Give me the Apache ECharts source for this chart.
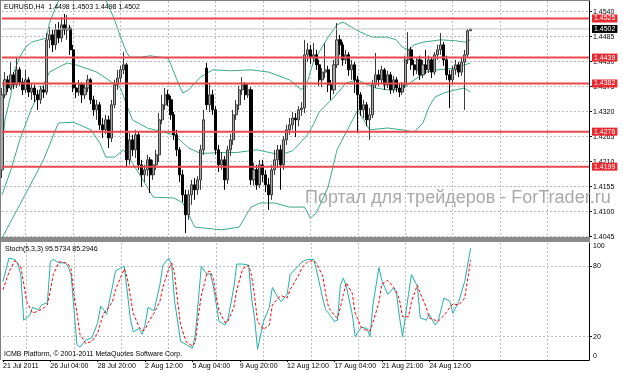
<!DOCTYPE html>
<html><head><meta charset="utf-8">
<script src="https://cdn.jsdelivr.net/npm/echarts@6/dist/echarts.min.js"></script>
<style>html,body{margin:0;padding:0;background:#fff;overflow:hidden}#c{width:623px;height:373px}</style>
</head><body><div id="c"></div>
<script>
// ---- data (EURUSD H4) ----
const opens = [1.4192,1.4357,1.4390,1.4372,1.4401,1.4379,1.4412,1.4385,1.4368,1.4390,1.4363,1.4372,1.4357,1.4346,1.4368,1.4363,1.4478,1.4489,1.4467,1.4500,1.4482,1.4511,1.4500,1.4504,1.4456,1.4372,1.4363,1.4379,1.4357,1.4372,1.4390,1.4346,1.4324,1.4335,1.4291,1.4280,1.4302,1.4262,1.4335,1.4379,1.4394,1.4412,1.4423,1.4214,1.4258,1.4236,1.4269,1.4203,1.4181,1.4192,1.4214,1.4181,1.4203,1.4225,1.4302,1.4335,1.4357,1.4346,1.4313,1.4269,1.4236,1.4181,1.4137,1.4093,1.4137,1.4159,1.4148,1.4170,1.4236,1.4416,1.4335,1.4357,1.4324,1.4236,1.4203,1.4214,1.4170,1.4236,1.4258,1.4313,1.4335,1.4368,1.4379,1.4357,1.4368,1.4170,1.4192,1.4159,1.4203,1.4181,1.4159,1.4137,1.4192,1.4214,1.4236,1.4203,1.4258,1.4280,1.4291,1.4306,1.4302,1.4324,1.4328,1.4445,1.4456,1.4438,1.4445,1.4423,1.4390,1.4407,1.4412,1.4379,1.4368,1.4423,1.4478,1.4467,1.4434,1.4445,1.4412,1.4423,1.4390,1.4357,1.4324,1.4335,1.4302,1.4313,1.4379,1.4401,1.4390,1.4412,1.4379,1.4401,1.4368,1.4390,1.4372,1.4363,1.4379,1.4434,1.4456,1.4423,1.4412,1.4434,1.4401,1.4423,1.4412,1.4434,1.4407,1.4445,1.4456,1.4467,1.4434,1.4401,1.4390,1.4412,1.4423,1.4407,1.4429,1.4445,1.4498];
const highs = [1.4372,1.4407,1.4399,1.4429,1.4407,1.4438,1.4418,1.4394,1.4412,1.4396,1.4381,1.4379,1.4368,1.4377,1.4377,1.4493,1.4506,1.4500,1.4513,1.4517,1.4528,1.4535,1.4533,1.4511,1.4467,1.4381,1.4390,1.4385,1.4381,1.4401,1.4394,1.4355,1.4346,1.4341,1.4306,1.4313,1.4311,1.4346,1.4390,1.4412,1.4421,1.4451,1.4427,1.4273,1.4269,1.4280,1.4275,1.4214,1.4203,1.4225,1.4220,1.4214,1.4236,1.4317,1.4357,1.4372,1.4368,1.4355,1.4319,1.4280,1.4242,1.4192,1.4148,1.4148,1.4170,1.4174,1.4178,1.4247,1.4324,1.4427,1.4383,1.4368,1.4332,1.4247,1.4231,1.4222,1.4245,1.4271,1.4324,1.4346,1.4377,1.4396,1.4385,1.4381,1.4374,1.4207,1.4203,1.4214,1.4214,1.4192,1.4174,1.4203,1.4236,1.4247,1.4247,1.4266,1.4291,1.4306,1.4319,1.4317,1.4332,1.4341,1.4478,1.4471,1.4467,1.4471,1.4456,1.4434,1.4416,1.4471,1.4421,1.4390,1.4434,1.4515,1.4489,1.4473,1.4456,1.4451,1.4434,1.4429,1.4399,1.4363,1.4346,1.4341,1.4328,1.4390,1.4449,1.4412,1.4421,1.4416,1.4410,1.4407,1.4399,1.4396,1.4381,1.4385,1.4443,1.4495,1.4462,1.4434,1.4440,1.4443,1.4434,1.4456,1.4443,1.4438,1.4451,1.4467,1.4493,1.4473,1.4443,1.4412,1.4421,1.4434,1.4429,1.4438,1.4456,1.4502,1.4503];
const lows = [1.4174,1.4350,1.4363,1.4368,1.4370,1.4372,1.4377,1.4357,1.4361,1.4352,1.4346,1.4341,1.4324,1.4337,1.4350,1.4357,1.4460,1.4451,1.4456,1.4471,1.4473,1.4489,1.4478,1.4445,1.4363,1.4350,1.4355,1.4339,1.4348,1.4363,1.4337,1.4311,1.4302,1.4280,1.4262,1.4271,1.4240,1.4253,1.4328,1.4368,1.4385,1.4403,1.4198,1.4203,1.4222,1.4218,1.4192,1.4154,1.4165,1.4178,1.4141,1.4170,1.4192,1.4209,1.4293,1.4324,1.4332,1.4302,1.4258,1.4222,1.4165,1.4121,1.4053,1.4082,1.4115,1.4126,1.4137,1.4148,1.4225,1.4324,1.4319,1.4313,1.4225,1.4187,1.4192,1.4148,1.4161,1.4222,1.4247,1.4302,1.4324,1.4357,1.4346,1.4350,1.4159,1.4157,1.4148,1.4152,1.4165,1.4143,1.4104,1.4126,1.4181,1.4196,1.4148,1.4192,1.4247,1.4269,1.4280,1.4264,1.4288,1.4311,1.4317,1.4429,1.4425,1.4429,1.4412,1.4377,1.4374,1.4394,1.4363,1.4346,1.4359,1.4416,1.4445,1.4421,1.4425,1.4399,1.4390,1.4361,1.4273,1.4311,1.4306,1.4288,1.4258,1.4306,1.4372,1.4377,1.4381,1.4368,1.4372,1.4359,1.4361,1.4363,1.4352,1.4357,1.4372,1.4425,1.4412,1.4399,1.4403,1.4390,1.4394,1.4403,1.4405,1.4394,1.4401,1.4434,1.4445,1.4421,1.4390,1.4328,1.4379,1.4401,1.4396,1.4399,1.4324,1.4438,1.4498];
const closes = [1.4357,1.4390,1.4372,1.4401,1.4379,1.4412,1.4385,1.4368,1.4390,1.4363,1.4372,1.4357,1.4346,1.4368,1.4363,1.4478,1.4489,1.4467,1.4500,1.4482,1.4511,1.4500,1.4504,1.4456,1.4372,1.4363,1.4379,1.4357,1.4372,1.4390,1.4346,1.4324,1.4335,1.4291,1.4280,1.4302,1.4262,1.4335,1.4379,1.4394,1.4412,1.4423,1.4214,1.4258,1.4236,1.4269,1.4203,1.4181,1.4192,1.4214,1.4181,1.4203,1.4225,1.4302,1.4335,1.4357,1.4346,1.4313,1.4269,1.4236,1.4181,1.4137,1.4093,1.4137,1.4159,1.4148,1.4170,1.4236,1.4302,1.4335,1.4357,1.4324,1.4236,1.4203,1.4214,1.4170,1.4236,1.4258,1.4313,1.4335,1.4368,1.4379,1.4357,1.4368,1.4170,1.4192,1.4159,1.4203,1.4181,1.4159,1.4137,1.4192,1.4214,1.4236,1.4203,1.4258,1.4280,1.4291,1.4306,1.4302,1.4324,1.4328,1.4445,1.4456,1.4438,1.4445,1.4423,1.4390,1.4407,1.4412,1.4379,1.4368,1.4423,1.4478,1.4467,1.4434,1.4445,1.4412,1.4423,1.4390,1.4357,1.4324,1.4335,1.4302,1.4313,1.4379,1.4401,1.4390,1.4412,1.4379,1.4401,1.4368,1.4390,1.4372,1.4363,1.4379,1.4434,1.4456,1.4423,1.4412,1.4434,1.4401,1.4423,1.4412,1.4434,1.4407,1.4445,1.4456,1.4467,1.4434,1.4401,1.4390,1.4412,1.4423,1.4407,1.4429,1.4445,1.4498,1.4502];

// Bollinger band lines, read as [bar index, price]
const bbUpper = [[0,1.4236],[1,1.4302],[3,1.4357],[4,1.4407],[6,1.4440],[8,1.4462],[10,1.4473],[15,1.4482],[16,1.4515],[18,1.4548],[20,1.4577],[23,1.4599],[28,1.4605],[33,1.4588],[35,1.4566],[38,1.4522],[40,1.4484],[42,1.4451],[43,1.4440],[47,1.4440],[50,1.4443],[53,1.4440],[56,1.4438],[57,1.4423],[59,1.4390],[61,1.4361],[63,1.4368],[65,1.4383],[67,1.4396],[71,1.4412],[77,1.4410],[84,1.4412],[90,1.4407],[97,1.4390],[101,1.4368],[103,1.4385],[105,1.4429],[108,1.4462],[110,1.4484],[113,1.4511],[115,1.4517],[118,1.4506],[120,1.4498],[123,1.4489],[125,1.4484],[130,1.4484],[133,1.4478],[135,1.4462],[137,1.4456],[139,1.4467],[142,1.4473],[148,1.4478],[153,1.4476],[156,1.4473],[158,1.4478]];
const bbMiddle = [[0,1.4137],[3,1.4192],[6,1.4258],[10,1.4328],[14,1.4379],[16,1.4407],[20,1.4421],[22,1.4427],[25,1.4423],[32,1.4407],[37,1.4385],[40,1.4372],[42,1.4335],[44,1.4302],[49,1.4284],[58,1.4269],[63,1.4240],[67,1.4228],[74,1.4230],[79,1.4230],[86,1.4236],[94,1.4225],[98,1.4234],[100,1.4247],[103,1.4269],[105,1.4291],[107,1.4319],[112,1.4352],[116,1.4383],[120,1.4390],[122,1.4383],[126,1.4372],[130,1.4368],[135,1.4368],[138,1.4385],[143,1.4407],[147,1.4412],[153,1.4416],[156,1.4423],[158,1.4427]];
const bbLower = [[0,1.4042],[6,1.4115],[14,1.4214],[19,1.4295],[24,1.4297],[30,1.4280],[33,1.4251],[35,1.4220],[38,1.4220],[41,1.4236],[44,1.4207],[49,1.4154],[51,1.4132],[58,1.4130],[61,1.4119],[65,1.4066],[74,1.4060],[80,1.4066],[84,1.4110],[87,1.4119],[92,1.4119],[97,1.4110],[102,1.4110],[104,1.4086],[106,1.4097],[110,1.4154],[113,1.4236],[117,1.4286],[120,1.4324],[122,1.4302],[124,1.4280],[130,1.4284],[135,1.4280],[139,1.4275],[142,1.4295],[144,1.4330],[146,1.4352],[149,1.4361],[153,1.4368],[156,1.4372],[158,1.4363]];

// Stochastic(5,3,3), read as [bar index, value]
const stochMain = [[0,67],[2,87],[4,86],[5,82],[6,73],[7,34],[9,38],[10,45],[12,43],[13,47],[15,49],[16,84],[17,86],[19,83],[21,83],[22,80],[23,73],[25,13],[26,11],[28,17],[30,19],[32,32],[33,46],[34,43],[35,39],[37,63],[38,76],[40,79],[41,80],[43,36],[44,24],[46,27],[47,22],[48,30],[49,45],[51,42],[53,64],[54,81],[56,87],[57,81],[58,50],[60,16],[62,13],[64,10],[65,22],[67,80],[69,73],[70,74],[71,64],[73,33],[75,30],[76,35],[78,62],[79,82],[81,82],[83,81],[84,53],[85,36],[86,9],[88,33],[90,45],[91,62],[93,53],[94,50],[96,56],[97,73],[100,81],[101,84],[103,86],[105,86],[106,76],[108,53],[109,43],[110,40],[112,33],[113,34],[114,64],[115,70],[116,63],[118,39],[119,20],[121,28],[123,27],[124,20],[125,47],[127,79],[128,68],[130,56],[132,62],[133,56],[134,36],[135,20],[137,56],[138,73],[140,63],[141,36],[143,34],[144,39],[146,30],[147,33],[149,53],[151,50],[152,40],[154,50],[156,67],[158,95.5734]];
const stochSignal = [[0,60],[2,75],[4,85],[6,80],[7,65],[8,50],[10,40],[12,42],[14,45],[15,47],[16,60],[17,73],[19,84],[21,83],[22,82],[23,78],[24,55],[25,40],[26,22],[28,14],[30,16],[32,23],[33,32],[34,40],[35,42],[37,50],[38,60],[40,72],[41,78],[42,70],[43,55],[44,40],[46,28],[47,25],[48,26],[49,32],[51,40],[53,50],[54,62],[56,78],[57,83],[58,73],[59,50],[60,30],[62,15],[64,12],[65,15],[66,38],[67,55],[69,75],[70,76],[71,70],[72,55],[73,42],[75,32],[76,33],[78,45],[79,60],[81,78],[83,81],[84,72],[85,55],[86,33],[88,26],[90,30],[91,47],[93,53],[94,55],[96,53],[97,60],[100,73],[101,79],[103,84],[105,85],[106,82],[108,72],[109,57],[110,45],[112,38],[113,36],[114,45],[115,56],[116,66],[118,57],[119,40],[121,28],[123,25],[124,25],[125,32],[127,49],[128,65],[130,68],[132,62],[133,58],[134,51],[135,37],[137,37],[138,50],[140,64],[141,57],[143,45],[144,36],[146,34],[147,33],[149,38],[151,45],[152,48],[154,47],[156,53],[158,85.2946]];

const levels = [1.4525, 1.4439, 1.4382, 1.4276, 1.4199];
const bidPrice = 1.4502;
const priceTicks = [1.4540, 1.4485, 1.4430, 1.4375, 1.4320, 1.4265, 1.4210, 1.4155, 1.4100, 1.4045];
const stochTicks = [0, 20, 80, 100];
const stochLevels = [20, 80];
const xLabels = ['21 Jul 2011','26 Jul 04:00','28 Jul 20:00','2 Aug 12:00','5 Aug 04:00','9 Aug 20:00','12 Aug 12:00','17 Aug 04:00','21 Aug 21:00','24 Aug 12:00'];
const titleText = 'EURUSD,H4  1.4498 1.4503 1.4498 1.4502';
const stochText = 'Stoch(5,3,3) 95.5734 85.2946';
const copyText = 'ICMB Platform, \u00a9 2001-2011 MetaQuotes Software Corp.';
const watermark = 'Портал для трейдеров - ForTrader.ru';

// ---- layout ----
const LABEL_STEP = 16;
const N_SLOTS = 199;
const FONT = 'Liberation Sans';
const cats = Array.from({length: N_SLOTS}, (_, i) => String(i));
const candles = opens.map((o, i) => [o, closes[i], lows[i], highs[i]]);
const gridLine = {show: true, interval: (i) => i % LABEL_STEP === 8, lineStyle: {color: '#bdbdbd', type: [2, 2], width: 1}};

function hLine(value, color, width, boxColor, z) {
  return {
    type: 'line', xAxisIndex: 0, yAxisIndex: 0, z: z, silent: true,
    data: [[0, value], [N_SLOTS - 1, value]],
    showSymbol: false, symbol: 'none',
    lineStyle: {color: color, width: width},
    endLabel: {show: true, distance: 3, formatter: value.toFixed(4), color: '#fff',
      backgroundColor: boxColor, padding: [1, 2, 0, 2], fontFamily: FONT, fontSize: 7}
  };
}

const series = [
  {type: 'line', name: 'upper', xAxisIndex: 0, yAxisIndex: 0, data: bbUpper, showSymbol: false, symbol: 'none',
   lineStyle: {color: '#3DAA82', width: 1}, z: 3, clip: true},
  {type: 'line', name: 'middle', xAxisIndex: 0, yAxisIndex: 0, data: bbMiddle, showSymbol: false, symbol: 'none',
   lineStyle: {color: '#3DAA82', width: 1}, z: 3, clip: true},
  {type: 'line', name: 'lower', xAxisIndex: 0, yAxisIndex: 0, data: bbLower, showSymbol: false, symbol: 'none',
   lineStyle: {color: '#3DAA82', width: 1}, z: 3, clip: true},
  {type: 'candlestick', xAxisIndex: 0, yAxisIndex: 0, data: candles, barWidth: 2.6, z: 4,
   itemStyle: {color: '#a8a8a8', color0: '#000000', borderColor: '#3a3a3a', borderColor0: '#000000', borderWidth: 1}},
  {type: 'line', name: 'main', xAxisIndex: 1, yAxisIndex: 1, data: stochMain, showSymbol: false, symbol: 'none',
   lineStyle: {color: '#20B2AA', width: 1}, z: 4},
  {type: 'line', name: 'signal', xAxisIndex: 1, yAxisIndex: 1, data: stochSignal, showSymbol: false, symbol: 'none',
   lineStyle: {color: '#FF0000', width: 1, type: [3, 2]}, z: 5},
  hLine(bidPrice, '#c4c4c4', 1, '#000000', 5)
].concat(levels.map(v => hLine(v, '#E8484E', 2, '#E8282E', 6)));

const chart = echarts.init(document.getElementById('c'), null, {renderer: 'canvas'});
chart.setOption({
  animation: false,
  backgroundColor: '#ffffff',
  textStyle: {fontFamily: FONT, fontSize: 7},
  grid: [
    {left: 2, right: 34, top: 1, height: 236},
    {left: 2, right: 34, top: 243, height: 117}
  ],
  xAxis: [
    {type: 'category', gridIndex: 0, data: cats, boundaryGap: false,
     axisLine: {show: false}, axisTick: {show: false}, axisLabel: {show: false}, splitLine: gridLine},
    {type: 'category', gridIndex: 1, data: cats, boundaryGap: false,
     axisLine: {show: true, lineStyle: {color: '#000', width: 1}},
     axisTick: {show: true, length: 2, interval: (i) => i % LABEL_STEP === 0 && i / LABEL_STEP < xLabels.length, lineStyle: {color: '#000'}},
     axisLabel: {show: true, margin: 3, align: 'left', color: '#000', fontFamily: FONT, fontSize: 7,
       interval: (i) => i % LABEL_STEP === 0 && i / LABEL_STEP < xLabels.length,
       formatter: (v, i) => (i % LABEL_STEP === 0 && xLabels[i / LABEL_STEP]) || ''},
     splitLine: gridLine}
  ],
  yAxis: [
    {type: 'value', gridIndex: 0, position: 'right', min: 1.40442, max: 1.45635,
     axisLine: {show: true, lineStyle: {color: '#000', width: 1}},
     axisTick: {show: true, length: 3, customValues: priceTicks, lineStyle: {color: '#000'}},
     axisLabel: {show: true, margin: 4, color: '#000', fontFamily: FONT, fontSize: 7, customValues: priceTicks,
       hideOverlap: false, formatter: (v) => v.toFixed(4)},
     splitLine: {show: true, lineStyle: {color: '#bdbdbd', type: [2, 2], width: 1}}},
    {type: 'value', gridIndex: 1, position: 'right', min: 0, max: 100,
     axisLine: {show: true, lineStyle: {color: '#000', width: 1}},
     axisTick: {show: true, length: 3, customValues: stochLevels, lineStyle: {color: '#000'}},
     axisLabel: {show: true, margin: 4, color: '#000', fontFamily: FONT, fontSize: 7, customValues: stochTicks,
       verticalAlignMinLabel: 'bottom', verticalAlignMaxLabel: 'top'},
     splitLine: {show: true, lineStyle: {color: '#bdbdbd', type: [2, 2], width: 1}}}
  ],
  series: series,
  graphic: [
    {type: 'rect', shape: {x: 0, y: 237, width: 590, height: 5}, style: {fill: '#8a8a8a'}, z: 10},
    {type: 'line', shape: {x1: 0.5, y1: 0, x2: 0.5, y2: 360}, style: {stroke: '#808080', lineWidth: 1}, z: 10},
    {type: 'line', shape: {x1: 0, y1: 0.5, x2: 590, y2: 0.5}, style: {stroke: '#808080', lineWidth: 1}, z: 10},
    {type: 'text', x: 305, y: 198, z: 2, style: {text: watermark, fill: '#a9a9a9', font: '18px "' + FONT + '"', textVerticalAlign: 'middle'}},
    {type: 'text', x: 4, y: 7, z: 20, style: {text: titleText, fill: '#000', font: '7px "' + FONT + '"', textVerticalAlign: 'middle'}},
    {type: 'text', x: 5, y: 249, z: 20, style: {text: stochText, fill: '#000', font: '7px "' + FONT + '"', textVerticalAlign: 'middle'}},
    {type: 'text', x: 4, y: 354, z: 20, style: {text: copyText, fill: '#000', font: '7px "' + FONT + '"', textVerticalAlign: 'middle'}}
  ]
});
</script></body></html>
